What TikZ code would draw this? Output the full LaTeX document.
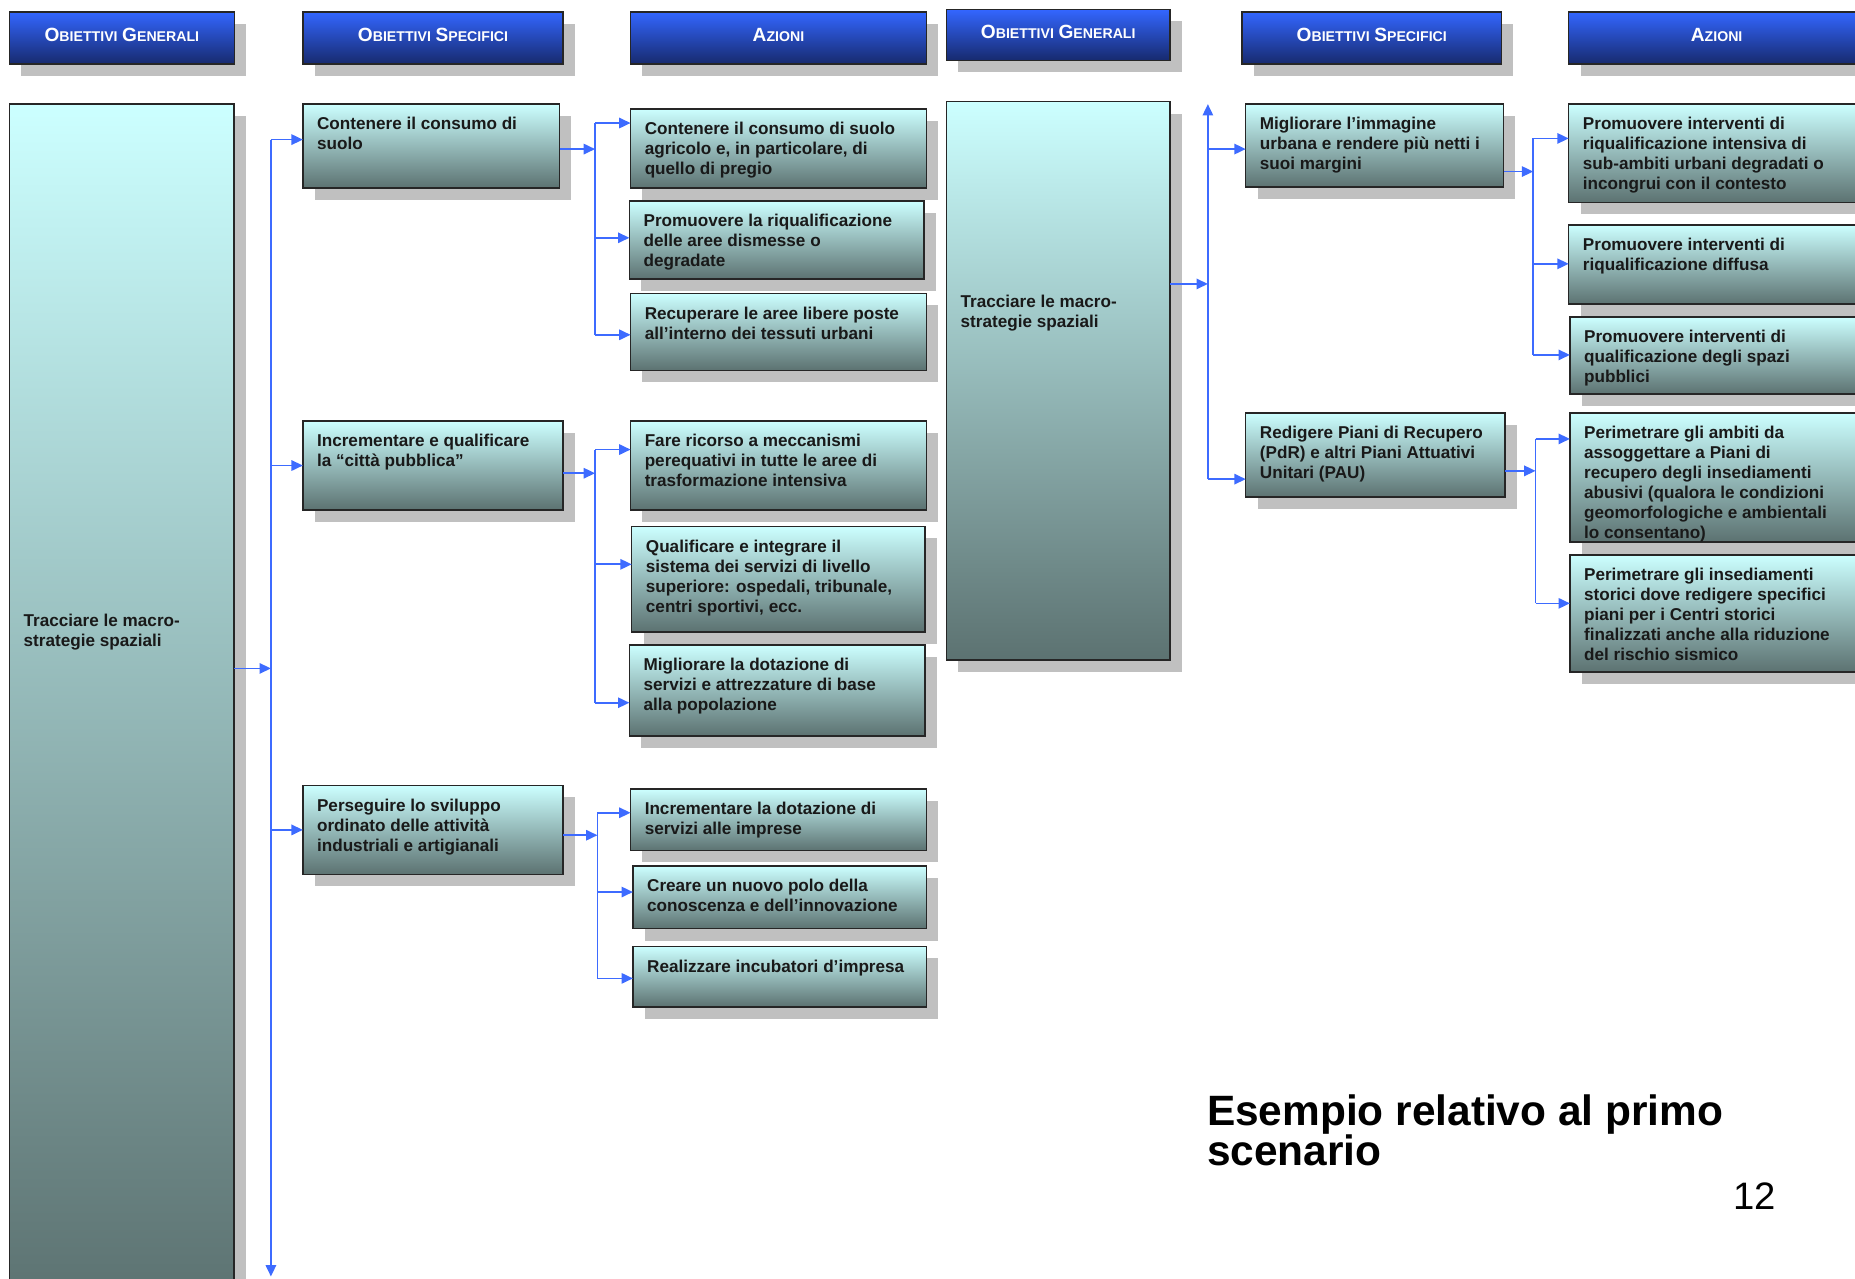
\documentclass[tikz,border=0pt]{standalone}
\usepackage{fontspec}
\setmainfont{Liberation Sans}
\usetikzlibrary{shadows,arrows.meta}

\definecolor{titblu}{HTML}{3366FF}
\definecolor{titmezzo}{HTML}{2C56E0}
\definecolor{titscuro}{HTML}{172A6E}
\definecolor{cellachiaro}{HTML}{CCFFFF}
\definecolor{cellascuro}{HTML}{5C7271}
\definecolor{ombra}{HTML}{C0C0C0}
\definecolor{linkblu}{HTML}{3D6BFF}

% 1 px of the slide
\newlength{\pxu}
\setlength{\pxu}{0.025cm}
\newcommand{\testo}[3]{\parbox[t][\dimexpr#2\pxu-0.56cm\relax][t]{\dimexpr#1\pxu-0.6cm\relax}{\raggedright #3}}
\newcommand{\maiu}[2]{{\fontsize{11.5}{12}\selectfont #1}{\fontsize{8.5}{12}\selectfont #2}}

\tikzset{
  titolo/.style={anchor=north west, draw=black!85, line width=0.9pt,
    top color=titblu, middle color=titmezzo, bottom color=titscuro,
    text=white, font=\bfseries, minimum height=1.1cm, outer sep=0pt, text depth=4pt,
    drop shadow={shadow xshift=0.25cm, shadow yshift=-0.25cm, fill=ombra, opacity=1}},
  cella/.style={anchor=north west, draw=black!85, line width=0.9pt,
    top color=cellachiaro, bottom color=cellascuro,
    inner xsep=0.3cm, inner ysep=0.28cm, outer sep=0pt,
    font=\bfseries\fontsize{10.3}{12}\selectfont, text=black!90,
    drop shadow={shadow xshift=0.25cm, shadow yshift=-0.25cm, fill=ombra, opacity=1}},
  freccia/.style={draw=linkblu, line width=1pt, -{Triangle[length=2.4mm,width=2.2mm]}},
  linea/.style={draw=linkblu, line width=1pt}
}

\begin{document}
\begin{tikzpicture}[x=0.025cm, y=-0.025cm]
\useasboundingbox (0,0) rectangle (1568,1081);

% Intestazioni
\node[titolo, minimum width=4.75cm] (t1) at (8,10) {\maiu{O}{BIETTIVI} \maiu{G}{ENERALI}};
\node[titolo, minimum width=5.5cm] (t2) at (256,10) {\maiu{O}{BIETTIVI} \maiu{S}{PECIFICI}};
\node[titolo, minimum width=6.25cm] (t3) at (533,10) {\maiu{A}{ZIONI}};
\node[titolo, minimum width=4.725cm, minimum height=1.075cm] (t4) at (800,8) {\maiu{O}{BIETTIVI} \maiu{G}{ENERALI}};
\node[titolo, minimum width=5.475cm] (t5) at (1050,10) {\maiu{O}{BIETTIVI} \maiu{S}{PECIFICI}};
\node[titolo, minimum width=6.25cm] (t6) at (1326,10) {\maiu{A}{ZIONI}};

% Obiettivi generali
\node[cella] (og1) at (8,88) {\testo{190}{1012}{\vspace*{10.5cm}Tracciare le macro-\\strategie spaziali}};
\node[cella] (og2) at (800,86) {\testo{189}{472}{\vspace*{3.8cm}Tracciare le macro-\\strategie spaziali}};

% Obiettivi specifici
\node[cella] (osa) at (256,88) {\testo{217}{71}{Contenere il consumo di\\suolo}};
\node[cella] (osb) at (256,356) {\testo{220}{75}{Incrementare e qualificare\\la “città pubblica”}};
\node[cella] (osc) at (256,664) {\testo{220}{75}{Perseguire lo sviluppo\\ordinato delle attività\\industriali e artigianali}};
\node[cella] (osd) at (1053,88) {\testo{218}{70}{Migliorare l’immagine\\urbana e rendere più netti i\\suoi margini}};
\node[cella] (ose) at (1053,349) {\testo{219}{71}{Redigere Piani di Recupero\\(PdR) e altri Piani Attuativi\\Unitari (PAU)}};

% Azioni
\node[cella] (a1) at (533,92) {\testo{250}{67}{Contenere il consumo di suolo\\agricolo e, in particolare, di\\quello di pregio}};
\node[cella] (a2) at (532,170) {\testo{249}{66}{Promuovere la riqualificazione\\delle aree dismesse o\\degradate}};
\node[cella] (a3) at (533,248) {\testo{250}{65}{Recuperare le aree libere poste\\all’interno dei tessuti urbani}};
\node[cella] (b1) at (533,356) {\testo{250}{75}{Fare ricorso a meccanismi\\perequativi in tutte le aree di\\trasformazione intensiva}};
\node[cella] (b2) at (534,445) {\testo{248}{89}{Qualificare e integrare il\\sistema dei servizi di livello\\superiore: ospedali, tribunale,\\centri sportivi, ecc.}};
\node[cella] (b3) at (532,545) {\testo{250}{77}{Migliorare la dotazione di\\servizi e attrezzature di base\\alla popolazione}};
\node[cella] (c1) at (533,667) {\testo{250}{52}{Incrementare la dotazione di\\servizi alle imprese}};
\node[cella] (c2) at (535,732) {\testo{248}{53}{Creare un nuovo polo della\\conoscenza e dell’innovazione}};
\node[cella] (c3) at (535,800) {\testo{248}{51}{Realizzare incubatori d’impresa}};
\node[cella] (d1) at (1326,88) {\testo{260}{83}{Promuovere interventi di\\riqualificazione intensiva di\\sub-ambiti urbani degradati o\\incongrui con il contesto}};
\node[cella] (d2) at (1326,190) {\testo{260}{67}{Promuovere interventi di\\riqualificazione diffusa}};
\node[cella] (d3) at (1327,268) {\testo{260}{65}{Promuovere interventi di\\qualificazione degli spazi\\pubblici}};
\node[cella] (e1) at (1327,349) {\testo{260}{109}{Perimetrare gli ambiti da\\assoggettare a Piani di\\recupero degli insediamenti\\abusivi (qualora le condizioni\\geomorfologiche e ambientali\\lo consentano)}};
\node[cella] (e2) at (1327,469) {\testo{260}{99}{Perimetrare gli insediamenti\\storici dove redigere specifici\\piani per i Centri storici\\finalizzati anche alla riduzione\\del rischio sismico}};

% Collegamenti, colonna sinistra
\coordinate (gin) at (229,565);
\coordinate (gtop) at (229,118);
\coordinate (gbot) at (229,1079);
\draw[freccia] (gin -| og1.east) -- (gin);
\draw[freccia] (gtop) -- (gbot);
\draw[freccia] (gtop) -- (gtop -| osa.west);
\draw[freccia] (gtop |- osb.west) -- (osb.west);
\draw[freccia] (gtop |- osc.west) -- (osc.west);

% gruppo a
\coordinate (ain) at (503,126);
\coordinate (ra1) at (503,104);
\coordinate (ra2) at (503,201);
\coordinate (ra3) at (503,283);
\draw[freccia] (ain -| osa.east) -- (ain);
\draw[linea] (ra1) -- (ra3);
\draw[freccia] (ra1) -- (ra1 -| a1.west);
\draw[freccia] (ra2) -- (ra2 -| a2.west);
\draw[freccia] (ra3) -- (ra3 -| a3.west);

% gruppo b
\coordinate (bin) at (503,400);
\coordinate (rb1) at (503,380);
\coordinate (rb2) at (503,477);
\coordinate (rb3) at (503,594);
\draw[freccia] (bin -| osb.east) -- (bin);
\draw[linea] (rb1) -- (rb3);
\draw[freccia] (rb1) -- (rb1 -| b1.west);
\draw[freccia] (rb2) -- (rb2 -| b2.west);
\draw[freccia] (rb3) -- (rb3 -| b3.west);

% gruppo c
\coordinate (cin) at (505,706);
\coordinate (rc1) at (505,687);
\coordinate (rc2) at (505,754);
\coordinate (rc3) at (505,827);
\draw[freccia] (cin -| osc.east) -- (cin);
\draw[linea] (rc1) -- (rc3);
\draw[freccia] (rc1) -- (rc1 -| c1.west);
\draw[freccia] (rc2) -- (rc2 -| c2.west);
\draw[freccia] (rc3) -- (rc3 -| c3.west);

% Collegamenti, colonna destra
\coordinate (hin) at (1021,240);
\coordinate (htop) at (1021,88);
\coordinate (hd) at (1021,126);
\coordinate (he) at (1021,405);
\draw[freccia] (hin -| og2.east) -- (hin);
\draw[freccia] (he) -- (htop);
\draw[freccia] (hd) -- (hd -| osd.west);
\draw[freccia] (he) -- (he -| ose.west);

% gruppo d
\coordinate (din) at (1296,145);
\coordinate (rd1) at (1296,117);
\coordinate (rd2) at (1296,223);
\coordinate (rd3) at (1296,300);
\draw[freccia] (din -| osd.east) -- (din);
\draw[linea] (rd1) -- (rd3);
\draw[freccia] (rd1) -- (rd1 -| d1.west);
\draw[freccia] (rd2) -- (rd2 -| d2.west);
\draw[freccia] (rd3) -- (rd3 -| d3.west);

% gruppo e
\coordinate (ein) at (1298,398);
\coordinate (re1) at (1298,371);
\coordinate (re2) at (1298,510);
\draw[freccia] (ein -| ose.east) -- (ein);
\draw[linea] (re1) -- (re2);
\draw[freccia] (re1) -- (re1 -| e1.west);
\draw[freccia] (re2) -- (re2 -| e2.west);

% Didascalia
\node[anchor=north west, inner sep=0pt, align=left, font=\bfseries\fontsize{25.5}{24}\selectfont] (nota) at (1020,925) {Esempio relativo al primo\\scenario};
\node[anchor=base west, inner sep=0pt, font=\fontsize{23}{24}\selectfont] (pag) at (1465,1022) {12};
\end{tikzpicture}
\end{document}
